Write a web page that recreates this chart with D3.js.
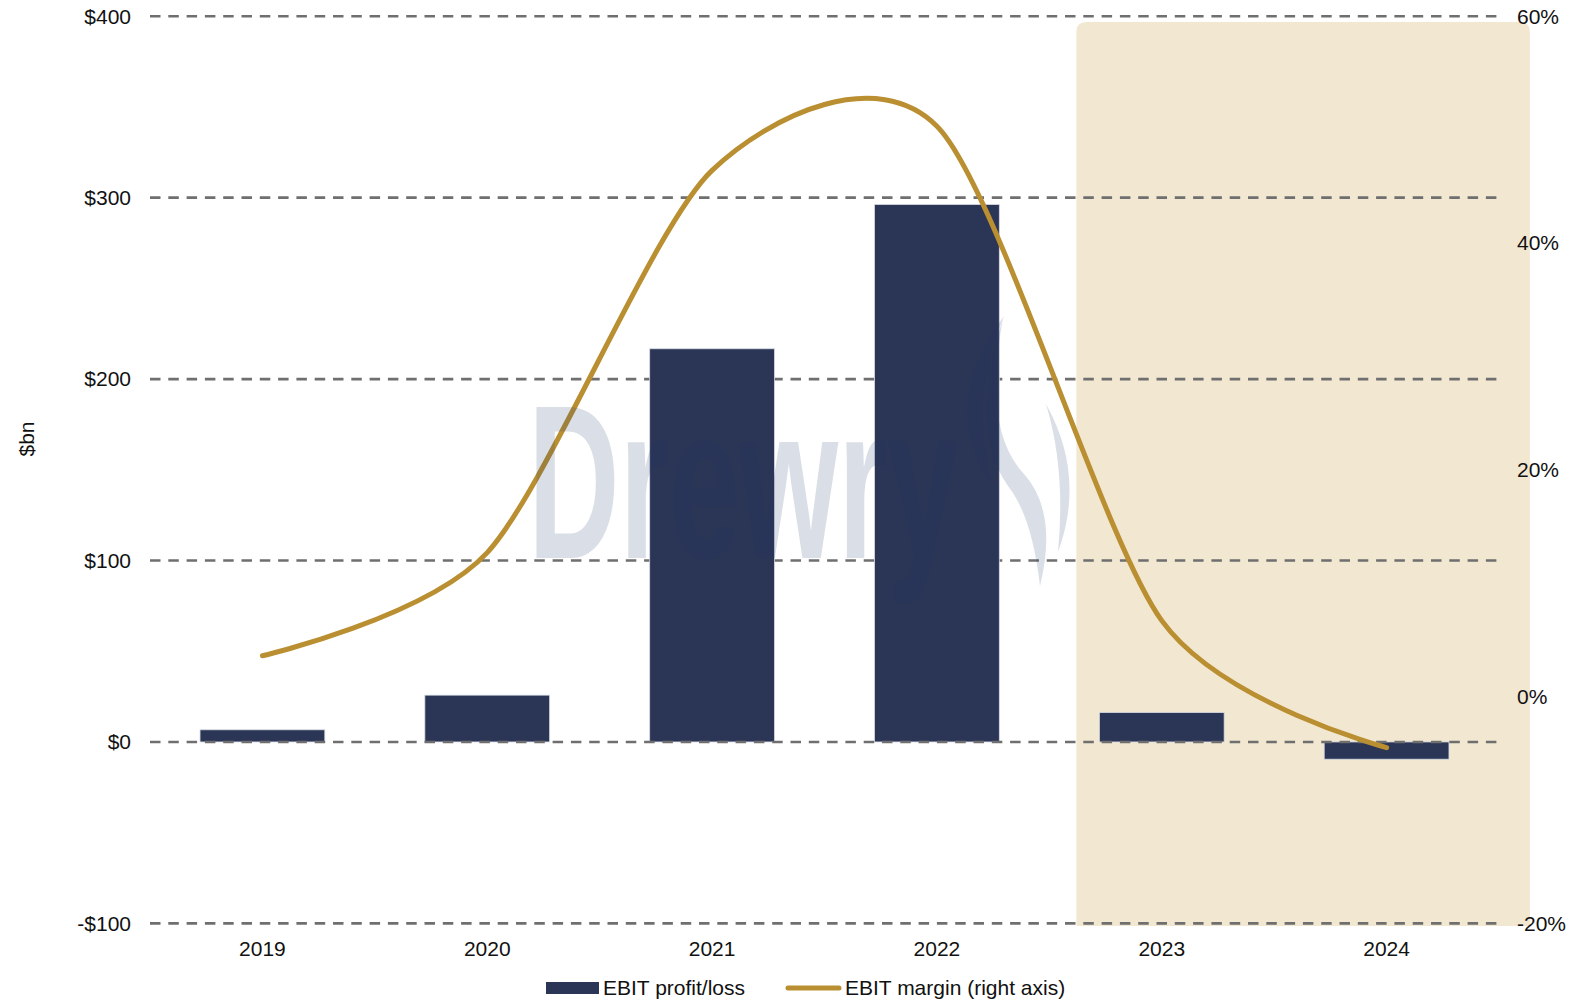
<!DOCTYPE html>
<html>
<head>
<meta charset="utf-8">
<script src="https://cdn.jsdelivr.net/npm/d3@7"></script>
<style>
  html, body { margin: 0; padding: 0; background: #fff; }
  svg { display: block; font-family: "Liberation Sans", Arial, sans-serif; }
</style>
</head>
<body>
<svg id="chart" width="1591" height="1002"></svg>
<script>
// Annual EBIT (US$ bn) and EBIT margin (%)
const years = ["2019", "2020", "2021", "2022", "2023", "2024"];
const ebit = [6.7, 25.8, 216.7, 296.2, 16.2, -9.5];
const margin = [3.6, 12.7, 46.4, 50.3, 6.7, -4.5];
const leftTicks = [-100, 0, 100, 200, 300, 400];
const rightTicks = [-20, 0, 20, 40, 60];
const forecastYears = ["2023", "2024"];

const svg = d3.select("#chart");
const plot = { left: 150, right: 1499, top: 16.2, bottom: 923.4 };

const x = d3.scaleBand().domain(years)
  .range([plot.left, plot.right])
  .paddingInner(0.445).paddingOuter(0.2225);
const yL = d3.scaleLinear().domain([-100, 400]).range([plot.bottom, plot.top]);
const yR = d3.scaleLinear().domain([-20, 60]).range([plot.bottom, plot.top]);

const navy = "#2b3555", gold = "#b98f31", shade = "#f2e7d1", grid = "#6f6f6f";

// Shaded forecast panel with rounded top corners
{
  const x0 = x(forecastYears[0]) - x.step() * 0.1 - 0.5;
  const x1 = x(forecastYears[forecastYears.length - 1]) + x.bandwidth() + x.step() * 0.36;
  const y0 = 22, y1 = 926, r = 10;
  svg.append("path")
    .attr("d", `M${x0},${y1} L${x0},${y0 + r} Q${x0},${y0} ${x0 + r},${y0} L${x1 - r},${y0} Q${x1},${y0} ${x1},${y0 + r} L${x1},${y1} Z`)
    .attr("fill", shade);
}

// Dashed gridlines
const gridG = svg.append("g");
function gridLine(g, v) {
  g.append("line")
    .attr("x1", plot.left).attr("x2", plot.right)
    .attr("y1", yL(v)).attr("y2", yL(v))
    .attr("stroke", grid).attr("stroke-width", 2.6)
    .attr("stroke-dasharray", "10.5,7.8");
}
leftTicks.filter(v => v !== 0).forEach(v => gridLine(gridG, v));

// Bars
svg.append("g").selectAll("rect").data(years).join("rect")
  .attr("x", d => x(d))
  .attr("width", x.bandwidth())
  .attr("y", (d, i) => yL(Math.max(0, ebit[i])))
  .attr("height", (d, i) => Math.abs(yL(ebit[i]) - yL(0)))
  .attr("fill", navy)
  .attr("stroke", "#d6dae3").attr("stroke-width", 0.8);

// Zero line on top of bars
gridLine(svg.append("g"), 0);

// Margin line (smoothed)
const line = d3.line()
  .x((d, i) => x(years[i]) + x.bandwidth() / 2)
  .y(d => yR(d))
  .curve(d3.curveCardinal.tension(0.2));
svg.append("path")
  .attr("d", line(margin))
  .attr("fill", "none")
  .attr("stroke", gold).attr("stroke-width", 5)
  .attr("stroke-linecap", "round");

// Watermark logo
const wm = svg.append("g").attr("fill", "#1e3a6e").attr("opacity", 0.16);
wm.append("text")
  .attr("x", 528).attr("y", 558)
  .attr("font-size", 219).attr("font-weight", "bold")
  .attr("textLength", 430).attr("lengthAdjust", "spacingAndGlyphs")
  .text("Drewry");
wm.append("path").attr("d", "M1004,316 Q938,405 992,484 Q968,400 1004,316 Z");
wm.append("path").attr("d", "M1003,318 Q982,430 1024,474 Q1058,512 1040,586 Q1032,516 1008,486 Q968,430 1003,318 Z");
wm.append("path").attr("d", "M1046,404 Q1086,476 1058,552 Q1066,470 1046,404 Z");

// Left axis labels
svg.append("g").selectAll("text").data(leftTicks).join("text")
  .attr("x", 131).attr("y", d => yL(d))
  .attr("dy", "0.35em")
  .attr("text-anchor", "end")
  .attr("font-size", 21).attr("fill", "#111")
  .text(d => (d < 0 ? "-$" : "$") + Math.abs(d));

// Right axis labels
svg.append("g").selectAll("text").data(rightTicks).join("text")
  .attr("x", 1517).attr("y", d => yR(d))
  .attr("dy", "0.35em")
  .attr("text-anchor", "start")
  .attr("font-size", 21).attr("fill", "#111")
  .text(d => d + "%");

// Category labels
svg.append("g").selectAll("text").data(years).join("text")
  .attr("x", d => x(d) + x.bandwidth() / 2).attr("y", 949)
  .attr("dy", "0.35em")
  .attr("text-anchor", "middle")
  .attr("font-size", 21).attr("fill", "#111")
  .text(d => d);

// Axis title
svg.append("text")
  .attr("transform", "translate(27,439) rotate(-90)")
  .attr("text-anchor", "middle").attr("dy", "0.35em")
  .attr("font-size", 21).attr("fill", "#111")
  .text("$bn");

// Legend
const lg = svg.append("g");
lg.append("rect").attr("x", 546).attr("y", 982).attr("width", 53).attr("height", 12).attr("fill", navy);
lg.append("text").attr("x", 603).attr("y", 988).attr("dy", "0.35em")
  .attr("font-size", 21).attr("fill", "#111").text("EBIT profit/loss");
lg.append("line").attr("x1", 788).attr("x2", 839).attr("y1", 988).attr("y2", 988)
  .attr("stroke", gold).attr("stroke-width", 5).attr("stroke-linecap", "round");
lg.append("text").attr("x", 845).attr("y", 988).attr("dy", "0.35em")
  .attr("font-size", 21).attr("fill", "#111").text("EBIT margin (right axis)");
</script>
</body>
</html>
